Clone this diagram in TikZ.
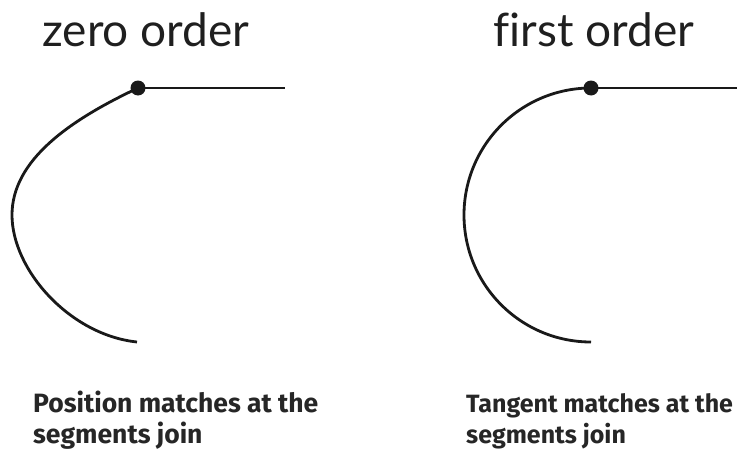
\documentclass[tikz,border=0pt]{standalone}
\usepackage{fontspec}
\setmainfont{Fira Sans}
\newfontfamily\titlefont[Ligatures=NoCommon]{Lato}
\begin{document}
\begin{tikzpicture}[x=1pt,y=-1pt,
  curve/.style={line width=2.8pt,color=black!90},
  joindot/.style={circle,fill=black!90,inner sep=0pt,minimum size=15pt},
  title/.style={font=\titlefont\fontsize{46}{46}\selectfont,text=black!88,anchor=base,inner sep=0pt},
  caption/.style={font=\bfseries\fontsize{#1}{31}\selectfont,text=black!85,anchor=base west,align=left,inner sep=0pt},
  caption/.default=26.5]
\useasboundingbox (0,0) rectangle (747,455);
% left
\node[title] (t1) at (146,46) {zero order};
\node[joindot] (d1) at (138,88) {};
\coordinate (e1) at (285,88);
\coordinate (s1) at (137,342);
\draw[curve] (d1.center) -- (e1);
\draw[curve] (d1.center) .. controls (70,120) and (12,160) .. (12,215)
   .. controls (12,270) and (70,335) .. (s1);
\node[caption] (c1) at (33,443) {Position matches at the\\segments join};
% right
\node[title] (t2) at (594,46) {first order};
\node[joindot] (d2) at (591,88) {};
\coordinate (e2) at (737,88);
\draw[curve] (d2.center) -- (e2);
\draw[curve] (d2.center) arc[start angle=-90,end angle=-270,x radius=127,y radius=127];
\node[caption=25] (c2) at (466,443) {Tangent matches at the\\segments join};
\end{tikzpicture}
\end{document}
